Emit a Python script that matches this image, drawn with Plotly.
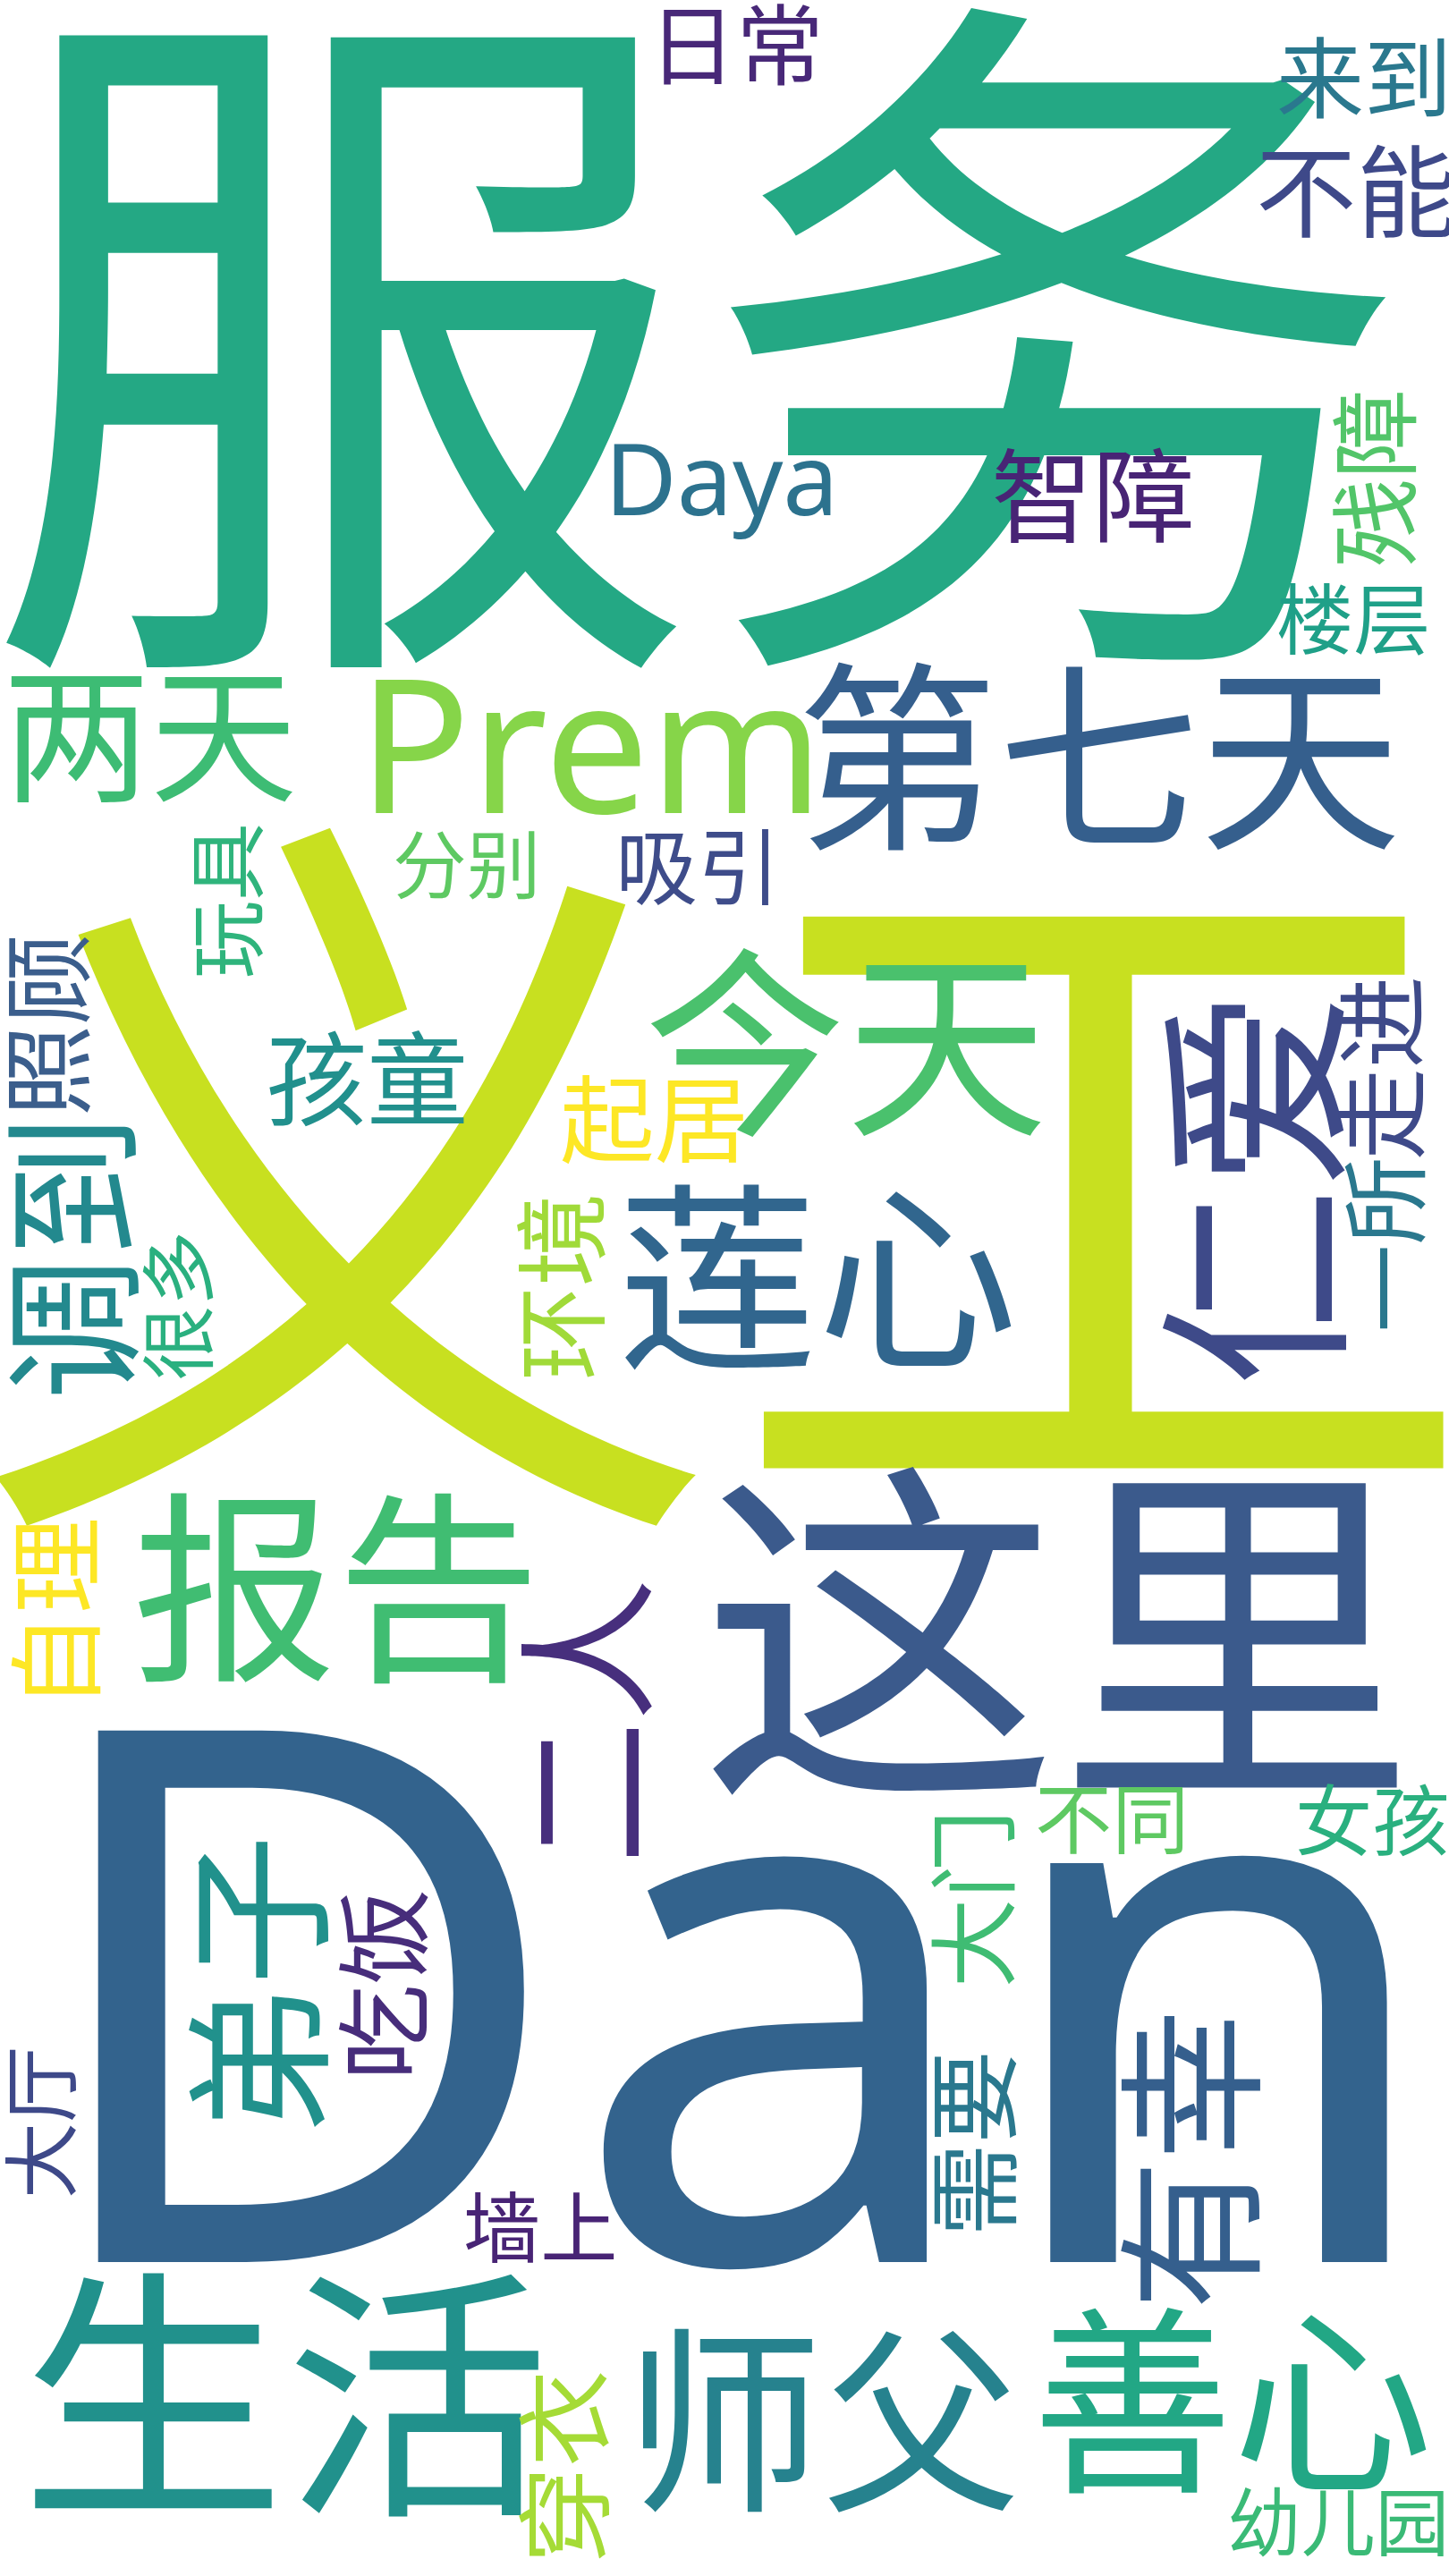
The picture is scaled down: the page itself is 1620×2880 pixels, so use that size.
import plotly.graph_objects as go

# слова облака и их веса (вес * 8.45 = кегль в пикселях)
words = ["服务", "义工", "Dan", "这里", "第七天", "Prem", "两天", "今天", "莲心", "仁爱",
         "报告", "生活", "师父", "善心", "弟子", "有幸", "二人", "调到", "照顾", "很多",
         "玩具", "孩童", "起居", "环境", "一所", "走进", "分别", "吸引", "日常", "来到",
         "不能", "Daya", "智障", "残障", "楼层", "自理", "大门", "不同", "女孩", "吃饭",
         "大厅", "需要", "墙上", "穿衣", "幼儿园"]
weights = [94.7, 100.0, 98.5, 47.3, 26.7, 24.7, 19.5, 26.7, 26.5, 26.3,
           27.0, 35.0, 26.2, 26.5, 19.9, 19.9, 18.9, 18.9, 12.1, 9.9,
           10.3, 13.4, 12.5, 12.4, 11.6, 12.2, 9.8, 10.9, 11.6, 11.6,
           13.3, 13.1, 13.5, 11.8, 10.2, 12.7, 11.8, 10.2, 10.2, 12.7,
           10.1, 12.3, 10.2, 12.8, 9.8]

# раскладка облака (центр слова в пикселях холста 1620x2880)
x_pos = [780, 810, 823, 1182, 1228, 660, 168, 945, 914, 1402,
         376, 319, 919, 1378, 288, 1330, 656, 81, 53, 199,
         254, 410, 731, 627, 1547, 1545, 522, 780, 823, 1525,
         1516, 806, 1222, 1537, 1513, 62, 1088, 1243, 1534, 428,
         46, 1088, 604, 631, 1496]
y_pos = [378, 1318, 2232, 1826, 846, 834, 820, 1166, 1428, 1329,
         1775, 2678, 2706, 2684, 2220, 2415, 1925, 1406, 1146, 1460,
         1007, 1206, 1250, 1438, 1392, 1194, 967, 969, 49, 86,
         214, 536, 554, 535, 692, 1803, 2123, 2033, 2035, 2218,
         2373, 2396, 2490, 2758, 2820]
vertical = [0, 0, 0, 0, 0, 0, 0, 0, 0, 1,
            0, 0, 0, 0, 1, 1, 1, 1, 1, 1,
            1, 0, 0, 1, 1, 1, 0, 0, 0, 0,
            0, 0, 0, 1, 0, 1, 1, 0, 0, 1,
            1, 1, 0, 1, 0]
colors = ["#24a884", "#c8e020", "#33638d", "#3b5a8c", "#355f8d", "#86d549", "#3dbc74", "#4ac16d", "#31668e", "#3e4a89",
          "#40bd72", "#21918c", "#26828e", "#22a785", "#21918c", "#355f8d", "#472f7d", "#23898e", "#3b5e8c", "#2ab07f",
          "#2fb47c", "#21908d", "#fde725", "#a0da39", "#2a788e", "#3e4a89", "#5ec962", "#3e4c8a", "#482878", "#2a788e",
          "#3e4989", "#2c728e", "#482475", "#52c569", "#1fa088", "#fde725", "#3fbc73", "#5ec962", "#2ab07f", "#472d7b",
          "#3e4989", "#2a788e", "#482475", "#a5db36", "#3aba76"]

W, H = 1620, 2880
fig = go.Figure()

for w, wt, x, y, v, c in zip(words, weights, x_pos, y_pos, vertical, colors):
    size = wt * 8.45
    latin = w.isascii()
    # сдвиг от центра рамки текста к центру глифов
    shift = 0.031 * size if latin else 0.056 * size
    if v:
        ax, ay = x - shift, y
    else:
        ax, ay = x, y - shift
    fig.add_annotation(
        x=ax, y=ay, xref="x", yref="y", text=w, showarrow=False,
        textangle=-90 if v else 0,
        xanchor="center", yanchor="middle",
        font=dict(size=size, color=c,
                  family="Noto Sans" if latin else "Noto Sans CJK SC"),
    )

fig.update_xaxes(range=[0, W], visible=False)
fig.update_yaxes(range=[H, 0], visible=False)
fig.update_layout(width=W, height=H, margin=dict(l=0, r=0, t=0, b=0),
                  plot_bgcolor="white", paper_bgcolor="white", showlegend=False)

fig.write_html("out.html", config={"displayModeBar": False},
               post_script="document.body.style.margin='0';")
